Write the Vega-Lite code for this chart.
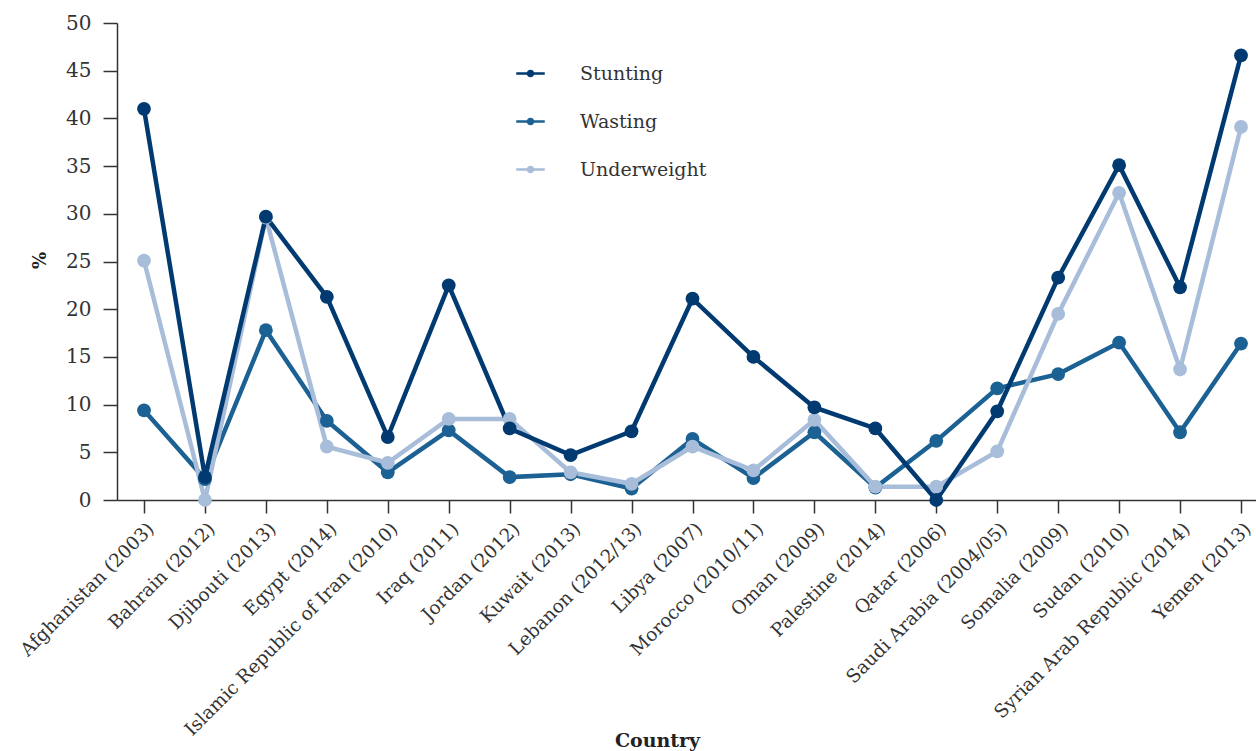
{
  "$schema": "https://vega.github.io/schema/vega-lite/v6.json",
  "autosize": {"type": "none"},
  "padding": {"left": 117, "top": 23, "right": 0, "bottom": 251},
  "width": 1151,
  "height": 477,
  "background": "white",
  "config": {
    "view": {"stroke": null},
    "font": "DejaVu Serif",
    "axis": {"grid": false, "domainColor": "#333333", "tickColor": "#333333", "labelColor": "#333333", "titleColor": "#222222", "labelFont": "DejaVu Serif", "titleFont": "DejaVu Serif", "domainWidth": 1.5, "tickWidth": 1.5}
  },
  "data": {
    "values": [
      {"Country": "Afghanistan (2003)", "Stunting": 41.0, "Wasting": 9.4, "Underweight": 25.1},
      {"Country": "Bahrain (2012)", "Stunting": 2.4, "Wasting": 2.2, "Underweight": 0.0},
      {"Country": "Djibouti (2013)", "Stunting": 29.7, "Wasting": 17.8, "Underweight": 29.6},
      {"Country": "Egypt (2014)", "Stunting": 21.3, "Wasting": 8.3, "Underweight": 5.6},
      {"Country": "Islamic Republic of Iran (2010)", "Stunting": 6.6, "Wasting": 2.9, "Underweight": 3.9},
      {"Country": "Iraq (2011)", "Stunting": 22.5, "Wasting": 7.3, "Underweight": 8.5},
      {"Country": "Jordan (2012)", "Stunting": 7.5, "Wasting": 2.4, "Underweight": 8.5},
      {"Country": "Kuwait (2013)", "Stunting": 4.7, "Wasting": 2.7, "Underweight": 2.9},
      {"Country": "Lebanon (2012/13)", "Stunting": 7.2, "Wasting": 1.2, "Underweight": 1.7},
      {"Country": "Libya (2007)", "Stunting": 21.1, "Wasting": 6.4, "Underweight": 5.6},
      {"Country": "Morocco (2010/11)", "Stunting": 15.0, "Wasting": 2.3, "Underweight": 3.1},
      {"Country": "Oman (2009)", "Stunting": 9.7, "Wasting": 7.1, "Underweight": 8.4},
      {"Country": "Palestine (2014)", "Stunting": 7.5, "Wasting": 1.3, "Underweight": 1.4},
      {"Country": "Qatar (2006)", "Stunting": 0.0, "Wasting": 6.2, "Underweight": 1.4},
      {"Country": "Saudi Arabia (2004/05)", "Stunting": 9.3, "Wasting": 11.7, "Underweight": 5.1},
      {"Country": "Somalia (2009)", "Stunting": 23.3, "Wasting": 13.2, "Underweight": 19.5},
      {"Country": "Sudan (2010)", "Stunting": 35.1, "Wasting": 16.5, "Underweight": 32.2},
      {"Country": "Syrian Arab Republic (2014)", "Stunting": 22.3, "Wasting": 7.1, "Underweight": 13.7},
      {"Country": "Yemen (2013)", "Stunting": 46.6, "Wasting": 16.4, "Underweight": 39.1}
    ]
  },
  "transform": [{"fold": ["Wasting", "Underweight", "Stunting"], "as": ["Indicator", "Value"]}],
  "encoding": {
    "x": {
      "field": "Country", "type": "nominal", "sort": null,
      "scale": {"type": "point", "padding": 0.443},
      "axis": {"labelAngle": -45, "labelAlign": "right", "labelBaseline": "top", "labelFontSize": 18.5, "labelPadding": 6, "tickSize": 13, "title": "Country", "titleFontSize": 19, "titleFontWeight": "bold", "titleX": 540, "titleY": 246, "titleBaseline": "alphabetic", "titleAlign": "center", "labelLimit": 400}
    },
    "y": {
      "field": "Value", "type": "quantitative",
      "scale": {"domain": [0, 50], "nice": false},
      "axis": {"values": [0, 5, 10, 15, 20, 25, 30, 35, 40, 45, 50], "labelFontSize": 20, "tickSize": 14, "labelPadding": 12, "title": "%", "titleFontSize": 18, "titleFontWeight": "bold", "titleX": -77, "titleY": 237, "titleAlign": "center", "titleBaseline": "middle", "titleAngle": -90}
    }
  },
  "layer": [
    {
      "mark": {"type": "line", "strokeWidth": 4.5},
      "encoding": {"color": {"field": "Indicator", "type": "nominal", "legend": null, "scale": {"domain": ["Stunting", "Wasting", "Underweight"], "range": ["#003a70", "#1c6193", "#a7bdd9"]}}}
    },
    {
      "mark": {"type": "point", "filled": true, "opacity": 1, "size": 190},
      "encoding": {
        "color": {
          "field": "Indicator", "type": "nominal",
          "scale": {"domain": ["Stunting", "Wasting", "Underweight"], "range": ["#003a70", "#1c6193", "#a7bdd9"]},
          "legend": {
            "orient": "none", "legendX": 404, "legendY": 41, "title": null, "padding": 0,
            "symbolType": "M-2.85,-0.25L2.85,-0.25L2.85,0.25L-2.85,0.25Z M-0.75,0A0.75,0.75 0 1,1 0.75,0A0.75,0.75 0 1,1 -0.75,0Z",
            "symbolStrokeWidth": 0, "symbolOpacity": 1,
            "labelOffset": 40, "labelFont": "DejaVu Serif", "labelFontSize": 19, "labelColor": "#333333", "rowPadding": 28,
            "encode": {"symbols": {"update": {"strokeWidth": {"value": 0}}}}
          }
        }
      }
    }
  ],
  "resolve": {"legend": {"color": "independent"}}
}
